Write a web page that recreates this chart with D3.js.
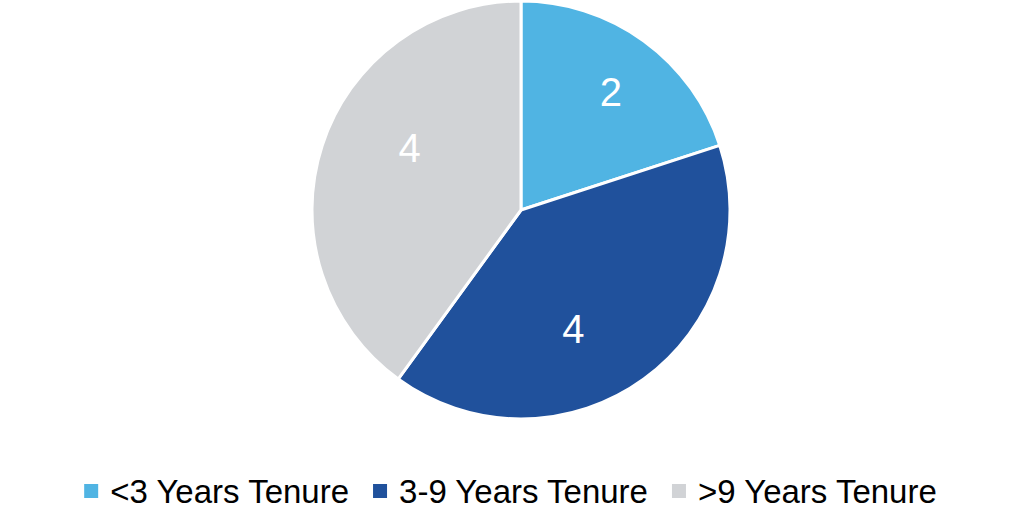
<!DOCTYPE html>
<html>
<head>
<meta charset="utf-8">
<script src="https://cdn.jsdelivr.net/npm/d3@7/dist/d3.min.js"></script>
<style>
  html, body { margin: 0; padding: 0; background: #ffffff; }
  svg { display: block; }
</style>
</head>
<body>
<svg id="chart" width="1022" height="525"></svg>
<script>
// ---- data ----
const categories = ["<3 Years Tenure", "3-9 Years Tenure", ">9 Years Tenure"];
const values = [2, 4, 4];
const colors = ["#50B4E3", "#20519C", "#D1D3D6"];

// ---- layout ----
const W = 1022, H = 525;
const cx = 521, cy = 210, R = 209;
// label placement relative to slice: [angle offset from mid (deg), radius fraction]
const labelPlacement = [[1.3, 0.71], [12.1, 0.62], [11.2, 0.61]];

const svg = d3.select("#chart");
const fontFamily = "'Liberation Sans', Arial, Helvetica, sans-serif";

const data = categories.map((c, i) => ({ cat: c, value: values[i], color: colors[i], i }));

const pie = d3.pie().value(d => d.value).sort(null);
const arcs = pie(data);
const arc = d3.arc().innerRadius(0).outerRadius(R);

const g = svg.append("g").attr("transform", `translate(${cx},${cy})`);

g.selectAll("path.slice")
  .data(arcs)
  .enter().append("path")
  .attr("class", "slice")
  .attr("d", arc)
  .attr("fill", d => d.data.color)
  .attr("stroke", "#ffffff")
  .attr("stroke-width", 3)
  .attr("stroke-linejoin", "round");

g.selectAll("text.lbl")
  .data(arcs)
  .enter().append("text")
  .attr("class", "lbl")
  .attr("transform", d => {
    const p = labelPlacement[d.index];
    const a = (d.startAngle + d.endAngle) / 2 + p[0] * Math.PI / 180;
    const r = R * p[1];
    return `translate(${r * Math.sin(a)},${-r * Math.cos(a)})`;
  })
  .attr("text-anchor", "middle")
  .attr("dy", "0.36em")
  .attr("fill", "#ffffff")
  .style("font-family", fontFamily)
  .style("font-size", "40px")
  .text(d => d.data.value);

// ---- legend ----
const legend = svg.append("g");
const legendFont = 33;
const sq = 14, sqGap = 12, itemGap = 24;
const legendY = 491;
const items = legend.selectAll("g.item").data(data).enter().append("g").attr("class", "item");
items.append("rect")
  .attr("width", sq).attr("height", sq)
  .attr("y", legendY - sq / 2)
  .attr("fill", d => d.color);
items.append("text")
  .attr("x", sq + sqGap)
  .attr("y", legendY)
  .attr("dy", "0.36em")
  .attr("fill", "#000000")
  .style("font-family", fontFamily)
  .style("font-size", legendFont + "px")
  .text(d => d.cat);

const widths = [];
items.each(function () {
  widths.push(sq + sqGap + d3.select(this).select("text").node().getComputedTextLength());
});
const total = d3.sum(widths) + itemGap * (widths.length - 1);
let x = 510.5 - total / 2;
items.each(function (d, i) {
  d3.select(this).attr("transform", `translate(${x},0)`);
  x += widths[i] + itemGap;
});
</script>
</body>
</html>
